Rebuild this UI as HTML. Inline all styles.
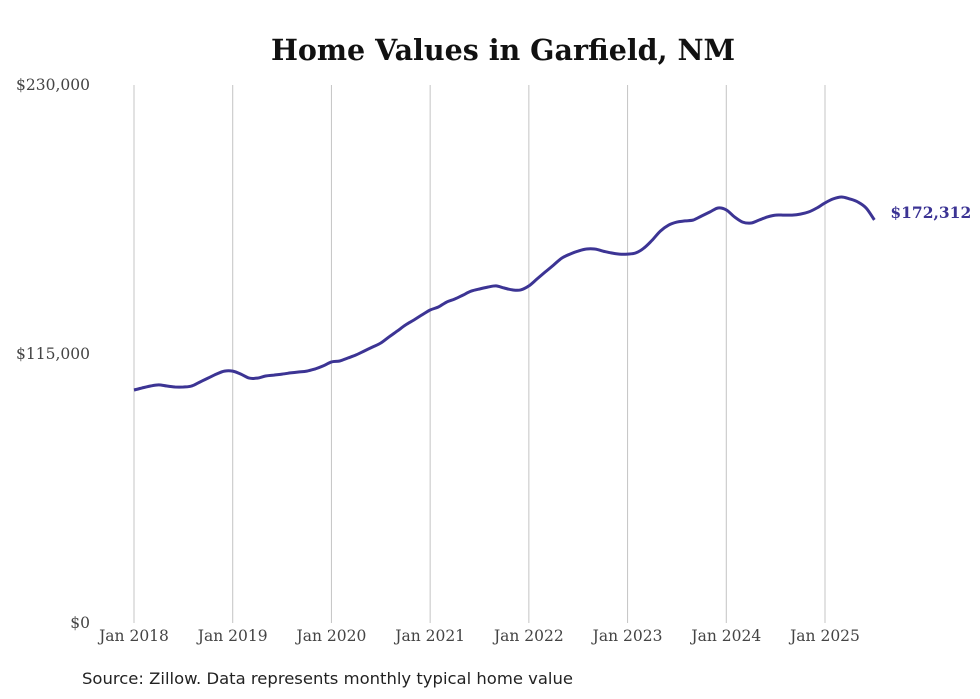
<!DOCTYPE html>
<html><head><meta charset="utf-8"><style>
html,body{margin:0;padding:0;background:#fff;}
svg{display:block;}
</style></head><body>
<svg id="chart" width="980" height="699">
<text x="503" y="60" text-anchor="middle" font-family="'DejaVu Serif','Liberation Serif',serif" font-weight="bold" font-size="28.5" fill="#111">Home Values in Garfield, NM</text>
<g id="grid"></g><g id="yticks"></g><g id="xticks"></g>
<path id="line" fill="none" stroke="#3c3494" stroke-width="3" stroke-linejoin="round"/>
<text id="endlabel" font-family="'DejaVu Serif','Liberation Serif',serif" font-weight="bold" font-size="15.5" fill="#3c3494"></text>
<text x="82" y="684" textLength="491" lengthAdjust="spacingAndGlyphs" font-family="'DejaVu Sans','Liberation Sans',sans-serif" font-size="16" fill="#222">Source: Zillow. Data represents monthly typical home value</text>
</svg>
<script>
const yearLabels=["Jan 2018","Jan 2019","Jan 2020","Jan 2021","Jan 2022","Jan 2023","Jan 2024","Jan 2025"];
const yTickValues=[0,115000,230000];
const values=[
99600,100500,101300,101800,101300,100900,100900,101300,103000,104700,106400,107700,
107700,106400,104700,104700,105600,106000,106400,106900,107300,107700,108600,109900,
111600,112000,113300,114600,116300,118000,119700,122300,124800,127400,129500,131700,
133800,135100,137200,138500,140200,141900,142800,143600,144100,143200,142400,142400,
144100,147100,150100,153000,156000,157700,159000,159900,159900,159000,158200,157700,
157700,158200,160300,163700,167600,170100,171400,171900,172300,174000,175700,177400,
176600,173600,171400,171000,172300,173600,174400,174400,174400,174800,175700,177400,
179600,181300,182100,181300,180000,177400,172312];
const NS="http://www.w3.org/2000/svg";
const x0=134,pxMonth=(825-134)/84,yTop=85,yBot=623,yMax=230000;
const xs=i=>x0+i*pxMonth;
const ys=v=>yBot-(v/yMax)*(yBot-yTop);
function mk(tag,attrs,parent,txt){const e=document.createElementNS(NS,tag);for(const k in attrs)e.setAttribute(k,attrs[k]);if(txt!==undefined)e.textContent=txt;parent.appendChild(e);return e;}
const grid=document.getElementById('grid'),xt=document.getElementById('xticks'),yt=document.getElementById('yticks');
yearLabels.forEach((l,i)=>{const x=xs(i*12);
const g=mk('line',{x1:x,x2:x,y1:yTop,y2:yBot,stroke:'#c4c4c4','stroke-width':1},grid);


const t=mk('text',{x:x,y:641,'text-anchor':'middle','font-family':"'DejaVu Serif','Liberation Serif',serif",'font-size':15.5,fill:'#444'},xt,l);

});
yTickValues.forEach(v=>{const t=mk('text',{x:90,y:ys(v)+5,'text-anchor':'end','font-family':"'DejaVu Serif','Liberation Serif',serif",'font-size':15.5,fill:'#444'},yt,'$'+v.toLocaleString('en-US'));

});
const pts=values.map((v,i)=>[xs(i),ys(v)]);
let d='M'+pts[0][0].toFixed(1)+','+pts[0][1].toFixed(1);
for(let i=0;i<pts.length-1;i++){const p0=pts[Math.max(0,i-1)],p1=pts[i],p2=pts[i+1],p3=pts[Math.min(pts.length-1,i+2)];
const c1=[p1[0]+(p2[0]-p0[0])/6,p1[1]+(p2[1]-p0[1])/6],c2=[p2[0]-(p3[0]-p1[0])/6,p2[1]-(p3[1]-p1[1])/6];
d+='C'+c1[0].toFixed(1)+','+c1[1].toFixed(1)+' '+c2[0].toFixed(1)+','+c2[1].toFixed(1)+' '+p2[0].toFixed(1)+','+p2[1].toFixed(1);}
document.getElementById('line').setAttribute('d',d);
const last=values.length-1,el=document.getElementById('endlabel');
el.setAttribute('x',xs(last)+16);el.setAttribute('y',ys(values[last])-2);
el.textContent='$'+values[last].toLocaleString('en-US');
</script>
</body></html>
